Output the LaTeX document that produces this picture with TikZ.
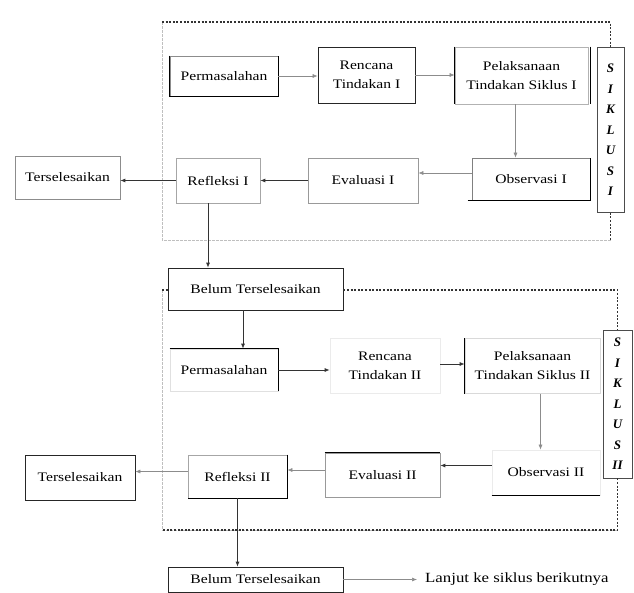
\documentclass[tikz,border=0pt]{standalone}
\usepackage{fontspec}
\setmainfont{Liberation Serif}
\newfontfamily\widefont{Liberation Serif}[FakeStretch=1.2]
\usetikzlibrary{arrows.meta,calc}
\begin{document}
\begin{tikzpicture}[x=1pt,y=-1pt,
  every node/.style={font=\widefont\fontsize{13}{19}\selectfont, align=center, inner sep=0pt},
  bx/.style={draw=#1, line width=0.7pt, fill=white, minimum width=100pt, minimum height=42pt},
  bx/.default=black!75,
  heavy/.style={line width=1.3pt, black},
  arr/.style={line width=0.8pt, black!80, -{Latex[length=5pt,width=4pt]}},
  farr/.style={line width=0.6pt, black!45, -{Latex[length=5pt,width=4pt]}},
  dotline/.style={line width=1.1pt, black!80, dash pattern=on 2pt off 1.6pt},
  faintline/.style={line width=0.5pt, black!25, dash pattern=on 3pt off 1pt},
  siklus/.style={draw=black!70, line width=0.7pt, fill=white, font=\fontsize{13}{20.5}\selectfont\bfseries\itshape}
]
\useasboundingbox (0,0) rectangle (634,592);

% region 1
\coordinate (R1tl) at (162,22);
\coordinate (R1br) at (610.5,240);
% region 2
\coordinate (R2tl) at (162,290);
\coordinate (R2br) at (617.5,530);

\draw[faintline] (R1tl) |- (R1br);
\draw[faintline] (R2tl) |- (R2br);

% cycle I nodes
\node[bx=black!45, minimum width=108pt, minimum height=40pt] (p1) at (224,76) {Permasalahan};
\node[bx=black!85, minimum width=97pt, minimum height=56pt] (r1) at (366.5,75) {Rencana\\Tindakan I};
\node[bx=black!30, minimum width=133pt, minimum height=57pt] (l1) at (521.5,75.5) {Pelaksanaan\\Tindakan Siklus I};
\node[siklus, minimum width=27pt, minimum height=165pt] (s1) at (610.5,130) {S\\I\\K\\L\\U\\S\\I};
\node[bx=black!50, minimum width=118pt, minimum height=42pt] (o1) at (531,179) {Observasi I};
\node[bx=black!40, minimum width=110pt, minimum height=45pt] (e1) at (363,180.5) {Evaluasi I};
\node[bx=black!35, minimum width=84pt, minimum height=45pt] (f1) at (218,180.5) {Refleksi I};
\node[bx=black!45, minimum width=105pt, minimum height=43pt] (t1) at (67.5,177.5) {Terselesaikan};
\node[bx=black!85, minimum width=175pt, minimum height=42pt] (b1) at (255.5,289) {Belum Terselesaikan};

% cycle II nodes
\node[bx=black!12, minimum width=108pt, minimum height=42pt] (p2) at (224,370) {Permasalahan};
\node[bx=black!8, minimum width=110pt, minimum height=55pt] (r2) at (385,366) {Rencana\\Tindakan II};
\node[bx=black!15, minimum width=135pt, minimum height=55pt] (l2) at (532.5,366) {Pelaksanaan\\Tindakan Siklus II};
\node[siklus, minimum width=29pt, minimum height=148pt] (s2) at (617.5,404) {S\\I\\K\\L\\U\\S\\II};
\node[bx=black!8, minimum width=108pt, minimum height=45pt] (o2) at (546,472.5) {Observasi II};
\node[bx=black!40, minimum width=115pt, minimum height=44pt] (e2) at (382.5,475) {Evaluasi II};
\node[bx=black!35, minimum width=99pt, minimum height=43pt] (f2) at (237.5,476.5) {Refleksi II};
\node[bx=black!85, minimum width=110pt, minimum height=45pt] (t2) at (80,477.5) {Terselesaikan};
\node[bx=black!85, minimum width=175pt, minimum height=25pt] (b2) at (255.5,579.5) {Belum Terselesaikan};
\node[anchor=west, font=\widefont\fontsize{14}{19}\selectfont] (lj) at (425,579.5) {Lanjut ke siklus berikutnya};

% heavy edges
\draw[heavy] (p1.north west) |- (p1.south east) -- (p1.north east);
\draw[heavy] (l1.north west) -- (l1.south west);
\draw[heavy] ([xshift=2pt]l1.north east) -- ([xshift=2pt]l1.south east);
\draw[heavy] ([xshift=-4pt]o1.south west) -- (o1.south east) -- (o1.north east);
\draw[heavy] (p2.north west) -- (p2.north east) -- (p2.south east);
\draw[heavy] (l2.north west) -- (l2.south west);
\draw[heavy] (o2.south west) -- (o2.south east);
\draw[heavy] (e2.north west) -- (e2.north east);
\draw[heavy] (f2.north east) |- (f2.south west);

% dotted region borders
\draw[dotline] (R1tl) -| (s1.north);
\draw[dotline] (s1.south) -- (s1.south |- R1br);
\draw[dotline] (b1.east |- R2tl) -| (s2.north);
\draw[dotline] (s2.south) -- (R2br) -- (R2br -| R2tl);
\draw[dotline] (R2tl) -- (b1.west |- R2tl);

% connectors cycle I
\draw[farr] (p1.east) -- (p1.east -| r1.west);
\draw[farr] (r1.east) -- (r1.east -| l1.west);
\draw[farr] ([xshift=-6pt]l1.south) -- ([xshift=-6pt]l1.south |- o1.north);
\draw[farr] ([yshift=6pt]o1.west) -- ([yshift=6pt]o1.west -| e1.east);
\draw[arr] (e1.west) -- (e1.west -| f1.east);
\draw[arr] (f1.west) -- (f1.west -| t1.east);
\draw[arr] ([xshift=-10pt]f1.south) -- ([xshift=-10pt]f1.south |- b1.north);

% connectors cycle II
\draw[arr] ([xshift=19pt]p2.north |- b1.south) -- ([xshift=19pt]p2.north);
\draw[arr] (p2.east) -- (p2.east -| r2.west);
\draw[arr] ([yshift=2pt]r2.east) -- ([yshift=2pt]r2.east -| l2.west);
\draw[farr] ([xshift=8pt]l2.south) -- ([xshift=8pt]l2.south |- o2.north);
\draw[arr] ([yshift=7pt]o2.west) -- ([yshift=7pt]o2.west -| e2.east);
\draw[farr] ([yshift=5pt]e2.west) -- ([yshift=5pt]e2.west -| f2.east);
\draw[farr] ([yshift=5pt]f2.west) -- ([yshift=5pt]f2.west -| t2.east);
\draw[arr] (f2.south) -- (f2.south |- b2.north);
\draw[farr, shorten >=8pt] (b2.east) -- (b2.east -| lj.west);
\end{tikzpicture}
\end{document}
